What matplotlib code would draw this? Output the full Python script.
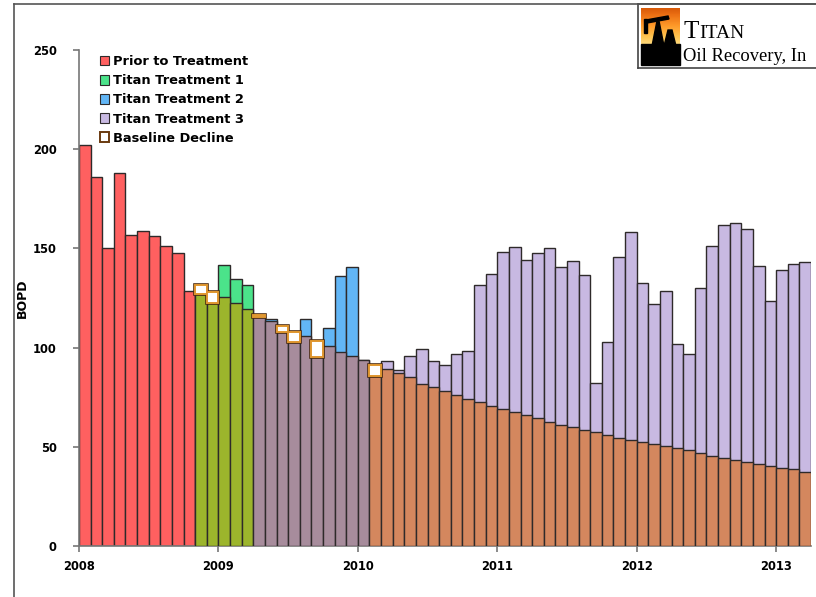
"""Monthly BOPD bars: prior production, three Titan treatments and the baseline decline."""

import matplotlib

matplotlib.use("Agg")
import matplotlib.pyplot as plt
import numpy as np
from matplotlib.lines import Line2D
from matplotlib.patches import Patch, Rectangle, Polygon

# Monthly oil rate (BOPD), Jan 2008 .. Mar 2013
PRIOR_BOPD = [202, 186, 150, 188, 157, 159, 156.4, 151, 147.5, 128.7]
T1_BOPD = [127, 122.6, 141.6, 134.6, 131.5]
T2_BOPD = [115.5, 114.3, 107.7, 102.7, 114.3, 95.1, 109.7, 136.2, 140.5, 94]
T3_BOPD = [85.5, 93.2, 88.9, 95.6, 99.3, 93.2, 91, 96.8, 98.1, 131.4,
           136.9, 148.3, 150.5, 144.2, 147.8, 150, 140.5, 143.5, 136.7, 82,
           102.7, 145.5, 158.1, 132.4, 121.8, 128.5, 102, 96.6, 130.2, 151.2,
           161.8, 162.6, 159.8, 141.1, 123.7, 139.1, 142.1, 143.3]
# Baseline decline from the first treatment month (Nov 2008) onward
BASELINE_BOPD = [131.5, 128.2, 125.3, 122.3, 119.5, 116.5, 113.5, 111, 108, 105.8,
                 103.3, 100.8, 98, 95.8, 94, 91, 89.2, 87, 85.2, 81.8,
                 80, 78.3, 76.3, 74.3, 72.6, 70.7, 69.2, 67.5, 65.9, 64.4,
                 62.7, 61.2, 60, 58.4, 57.3, 55.9, 54.4, 53.4, 52.4, 51.4,
                 50.4, 49.4, 48.2, 46.7, 45.5, 44.4, 43.5, 42.3, 41.3, 40.5,
                 39.5, 38.8, 37.5]
YEARS = ["2008", "2009", "2010", "2011", "2012", "2013"]
LABELS = ["Prior to Treatment", "Titan Treatment 1", "Titan Treatment 2",
          "Titan Treatment 3", "Baseline Decline"]

# colours: phase bar, and the part of the bar under the baseline
PHASE_COLORS = ["#FF6060", "#4BE38A", "#62B6F6", "#C8B9E2"]
UNDER_COLORS = [None, "#9CB52C", "#A78C9C", "#D4875E"]
EDGE = "#2e2a2a"


def main() -> None:
    phases = [PRIOR_BOPD, T1_BOPD, T2_BOPD, T3_BOPD]
    actual = np.concatenate([np.asarray(p, float) for p in phases])
    phase_idx = np.concatenate([[i] * len(p) for i, p in enumerate(phases)])
    x = np.arange(len(actual))

    fig = plt.figure(figsize=(8.16, 5.97), dpi=100)
    ax = fig.add_axes([79 / 816, 1 - 546 / 597, 732 / 816, 496 / 597])

    ax.bar(x, actual, width=1, align="edge",
           color=[PHASE_COLORS[i] for i in phase_idx],
           edgecolor=EDGE, linewidth=1.0, zorder=2)

    start = len(PRIOR_BOPD)
    bx = x[start:]
    base = np.asarray(BASELINE_BOPD, float)
    act = actual[start:]
    under = np.minimum(act, base)
    ax.bar(bx, under, width=1, align="edge",
           color=[UNDER_COLORS[i] for i in phase_idx[start:]],
           edgecolor=EDGE, linewidth=1.0, zorder=3)
    excess = base - act
    m = excess > 0.3
    ax.bar(bx[m], excess[m], bottom=act[m], width=1, align="edge",
           color="white", edgecolor="#4a2a10", linewidth=2.6, zorder=4)
    ax.bar(bx[m], excess[m], bottom=act[m], width=1, align="edge",
           color="white", edgecolor="#E0962E", linewidth=1.4, zorder=5)

    ax.set_xlim(0, len(actual))
    ax.set_ylim(0, 250)
    ax.set_yticks(np.arange(0, 251, 50))
    ax.set_xticks(np.arange(len(YEARS)) * 12)
    ax.set_xticklabels(YEARS)
    for s in ("top", "right"):
        ax.spines[s].set_visible(False)
    for s in ("left", "bottom"):
        ax.spines[s].set_color("#777777")
        ax.spines[s].set_linewidth(1.2)
    ax.tick_params(axis="y", length=4, width=1.2, color="#777777", pad=12,
                   labelsize=8.3)
    ax.tick_params(axis="x", length=4, width=1.2, color="#777777", pad=6,
                   labelsize=8.3)
    for t in ax.get_xticklabels() + ax.get_yticklabels():
        t.set_fontweight("bold")
    ax.set_ylabel("BOPD", fontsize=9, fontweight="bold", labelpad=3)

    handles = [Patch(facecolor=c, edgecolor=EDGE, linewidth=0.8) for c in PHASE_COLORS]
    handles.append(Patch(facecolor="white", edgecolor="#6a3a10", linewidth=1.4))
    leg = ax.legend(handles, LABELS, loc="upper left", bbox_to_anchor=(0.021, 1.0),
                    frameon=False, prop={"weight": "bold", "size": 9.4},
                    handlelength=0.75, handleheight=0.75, handletextpad=0.25,
                    labelspacing=0.47, borderaxespad=0)
    leg.set_zorder(10)

    # outer frame
    fig.add_artist(Line2D([14 / 816, 1], [1 - 4 / 597] * 2, transform=fig.transFigure,
                          color="#555555", lw=1.2))
    fig.add_artist(Line2D([14 / 816] * 2, [0, 1 - 4 / 597], transform=fig.transFigure,
                          color="#555555", lw=1.2))

    # logo box
    lax = fig.add_axes([638 / 816, 1 - 68 / 597, 178 / 816, 64 / 597])
    lax.set_xlim(0, 178)
    lax.set_ylim(64, 0)
    lax.set_xticks([])
    lax.set_yticks([])
    for s in lax.spines.values():
        s.set_color("#444444")
        s.set_linewidth(1.2)
    lax.spines["right"].set_visible(False)
    sky = np.linspace(0, 1, 60)[:, None] * np.ones((1, 10))
    lax.imshow(sky, cmap="YlOrBr_r", extent=(3, 42, 48, 4), aspect="auto",
               vmin=-0.6, vmax=1.4, zorder=1)
    lax.add_patch(Rectangle((3, 40), 39, 21, color="black", zorder=2))
    lax.add_patch(Polygon([(8, 16), (30, 12), (31, 15), (9, 19)], color="black", zorder=3))
    lax.add_patch(Polygon([(14, 42), (19, 17), (21, 17), (26, 42)], color="black", zorder=3))
    lax.add_patch(Polygon([(26, 42), (30, 26), (34, 26), (38, 42)], color="black", zorder=3))
    lax.add_patch(Rectangle((6, 15), 3, 14, color="black", zorder=3))
    lax.text(46, 34, "T", fontsize=18, family="Liberation Serif", va="baseline")
    lax.text(61, 34, "ITAN", fontsize=14, family="Liberation Serif", va="baseline")
    lax.text(45, 57, "Oil Recovery, In", fontsize=13.3, family="Liberation Serif",
             va="baseline")

    fig.savefig("out.png", dpi=100)


if __name__ == "__main__":
    main()
